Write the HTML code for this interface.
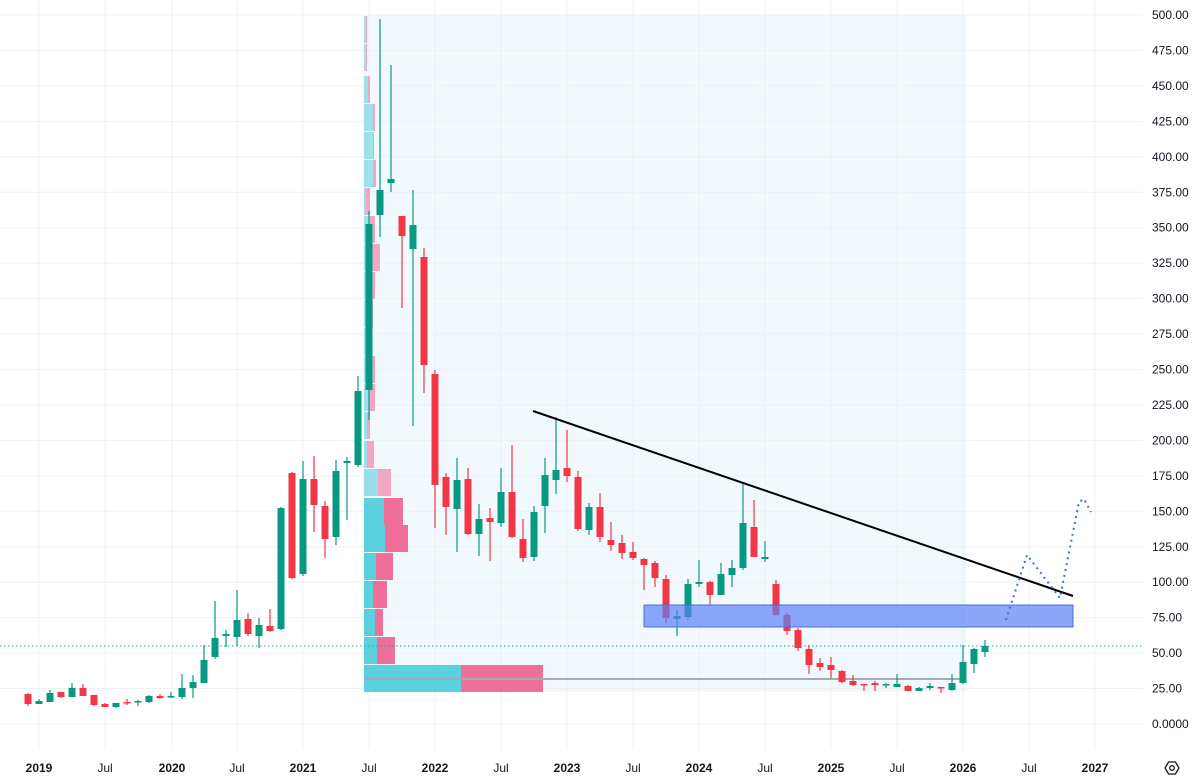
<!DOCTYPE html>
<html><head><meta charset="utf-8"><style>
html,body{margin:0;padding:0;background:#fff;width:1196px;height:778px;overflow:hidden}
svg text{font-family:"Liberation Sans",sans-serif;font-size:12px;fill:#131722}
</style></head><body>
<svg id="s" width="1196" height="778" xmlns="http://www.w3.org/2000/svg"></svg>
<script>
const s=document.getElementById('s');let h='';
// shaded region
h+='<rect x="363" y="15" width="603" height="677" fill="#f1f9fd"/>';
// grid
for(let k=0;k<=20;k++){const y=15+k*35.45;h+=`<line x1="0" x2="1143" y1="${y}" y2="${y}" stroke="#eef0f3"/>`;
 const v=500-k*25;h+=`<text x="1152" y="${y+4}">${v===0?'0.0000':v.toFixed(2)}</text>`;}
const xl=[['2019',39,1],['Jul',105],['2020',172,1],['Jul',237],['2021',303,1],['Jul',369],['2022',435,1],['Jul',501],['2023',567,1],['Jul',633],['2024',699,1],['Jul',765],['2025',831,1],['Jul',897],['2026',963,1],['Jul',1029],['2027',1095,1]];
xl.forEach(a=>{h+=`<line x1="${a[1]}" x2="${a[1]}" y1="0" y2="750" stroke="#eef0f3"/>`;h+=`<text x="${a[1]}" y="772" text-anchor="middle" ${a[2]?'font-weight="bold"':''}>${a[0]}</text>`;});
// volume profile
const prof=[[15,366,367],[43,366,367],[75,368,370],[103,373,375],[131,373,374],[159,373,376],[187,366,370],[215,370,375],[243,369,380],[271,369,375],[299,369,373],[327,368,372],[355,369,375],[383,369,375],[411,367,370],[440,367,374]];
prof.forEach(p=>{h+=`<rect x="364" y="${p[0]+1}" width="${p[1]-364}" height="27" fill="#9fe1ea"/><rect x="${p[1]}" y="${p[0]+1}" width="${p[2]-p[1]}" height="27" fill="#f2a6c2"/>`;});
const prof2=[[468,378,391,1],[497,384,403],[524,385,408],[552,376,393],[580,373,387],[608,375,383],[636,377,395],[664,461,543]];
prof2.forEach(p=>{h+=`<rect x="364" y="${p[0]+1}" width="${p[1]-364}" height="27" fill="${p[3]?'#98dfe9':'#5bd1e0'}"/><rect x="${p[1]}" y="${p[0]+1}" width="${p[2]-p[1]}" height="27" fill="${p[3]?'#f2a6c2':'#ef6f9b'}"/>`;});
h+='<line x1="364" x2="966" y1="679" y2="679" stroke="#a3aab3" stroke-width="2"/>';
h+='<line x1="0" x2="1143" y1="646" y2="646" stroke="#26a69a" stroke-dasharray="1.5,2.5"/>';
// candles [x,o,c,h,l]
const C=[[28,694,704,693,706],[39,704,701,699,704],[50,702,693,690,702],[61,692,697,692,698],[72,697,688,683,697],[83,688,696,684,696],[94,695,705,695,706],[105,704,707,703,707],[116,707,703,703,708],[127,702,703,699,705],[138,702,701,700,706],[149,702,696,695,703],[160,696,698,694,699],[171,697,696,692,698],[182,697,688,674,699],[193,688,682,675,698],[204,683,660,645,683],[215,657,638,601,659],[226,636,634,630,647],[237,637,620,590,646],[248,619,634,613,636],[259,636,625,618,648],[270,626,631,609,632],[281,629,508,507,630],[292,473,578,472,579],[303,574,479,461,576],[314,479,505,456,532],[325,506,539,501,558],[336,537,471,460,545],[347,463,461,457,520],[358,465,391,376,467],[369,390,224,211,420],[380,215,190,19,237],[391,183,179,65,192],[402,216,236,216,308],[413,249,225,190,426],[424,257,365,248,393],[435,374,485,370,528],[446,477,507,473,535],[457,509,480,458,552],[468,479,534,468,535],[479,534,519,504,556],[490,518,522,508,561],[501,523,492,468,527],[512,492,537,445,538],[523,539,558,519,562],[534,557,512,506,561],[545,506,475,458,533],[556,480,470,417,494],[567,468,476,430,482],[578,477,529,471,531],[589,530,507,503,535],[600,507,537,493,542],[611,540,545,522,551],[622,543,553,535,559],[633,552,558,542,560],[644,559,565,558,590],[655,563,578,561,587],[666,579,618,575,623],[677,619,616,610,636],[688,617,584,579,620],[699,584,582,560,587],[710,582,595,581,605],[721,595,574,563,595],[732,575,568,560,587],[743,568,523,484,570],[754,527,557,500,557],[765,559,557,541,562],[776,584,615,580,616],[787,615,631,613,635],[798,630,648,628,651],[809,649,665,645,674],[820,663,667,658,671],[831,665,670,657,678],[842,671,682,670,683],[853,681,685,675,686],[864,684,685,684,691],[875,683,685,681,691],[886,685,684,683,688],[897,687,684,674,687],[908,686,691,685,691],[919,691,688,687,691],[930,688,686,683,690],[941,687,688,687,693],[952,690,683,674,691],[963,683,662,645,684],[974,664,649,648,673],[985,652,646,640,657]];
C.forEach(c=>{const up=c[2]<=c[1];const col=up?'#089981':'#f23645';const t=Math.min(c[1],c[2]),b=Math.max(c[1],c[2]);
h+=`<line x1="${c[0]}" x2="${c[0]}" y1="${c[3]}" y2="${c[4]}" stroke="${col}" stroke-width="1.2"/><rect x="${c[0]-3.5}" y="${t}" width="7" height="${Math.max(b-t,1.5)}" fill="${col}"/>`;});
// zone
h+='<rect x="644" y="605" width="429" height="22" fill="#5b82f5" fill-opacity="0.7" stroke="#4a6fe0" stroke-width="1"/>';
h+='<line x1="533" y1="411" x2="1073" y2="596" stroke="#000" stroke-width="2"/>';
h+='<polyline points="1006,620 1027,555 1060,598 1079,502 1084,499 1091,512" fill="none" stroke="#3f6fd6" stroke-width="2" stroke-dasharray="2,4"/>';
h+='<g transform="translate(1172,768)"><polygon points="-7,0 -3.5,-6 3.5,-6 7,0 3.5,6 -3.5,6" fill="none" stroke="#131722" stroke-width="1.3"/><circle r="2.3" fill="none" stroke="#131722" stroke-width="1.3"/></g>';
s.innerHTML=h;
</script>
</body></html>
